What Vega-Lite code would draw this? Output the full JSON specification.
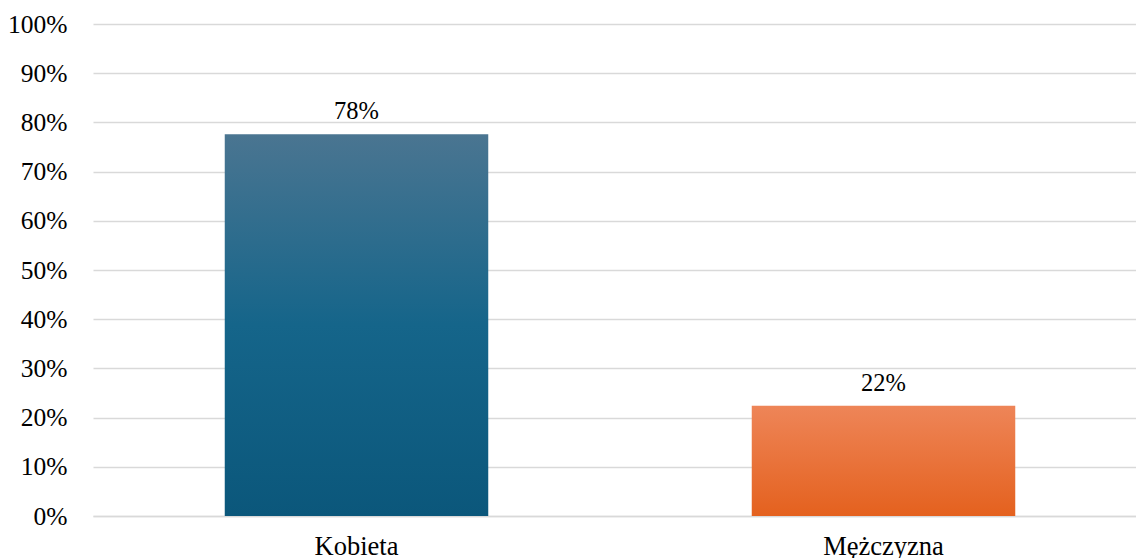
{
  "$schema": "https://vega.github.io/schema/vega-lite/v6.json",
  "width": 1054,
  "height": 492,
  "autosize": {"type": "none"},
  "padding": {"left": 93, "top": 24, "right": 0, "bottom": 42},
  "config": {
    "view": {"stroke": null},
    "font": "Liberation Serif, Times New Roman, serif",
    "axis": {"labelFont": "Liberation Serif, Times New Roman, serif", "labelColor": "#000000", "labelOverlap": false}
  },
  "data": {
    "values": [
      {"plec": "Kobieta", "udzial": 0.776},
      {"plec": "Mężczyzna", "udzial": 0.224}
    ]
  },
  "encoding": {
    "x": {
      "field": "plec", "type": "nominal", "sort": null,
      "scale": {"paddingInner": 0.5, "paddingOuter": 0.25},
      "axis": {"title": null, "labelAngle": 0, "labelFontSize": 26.5, "ticks": false, "domain": true, "domainColor": "#d9d9d9", "domainWidth": 1.5, "labelPadding": 17, "grid": false}
    },
    "y": {
      "field": "udzial", "type": "quantitative",
      "scale": {"domain": [0, 1]},
      "axis": {"title": null, "format": ".0%", "labelFontSize": 25.5, "values": [0,0.1,0.2,0.3,0.4,0.5,0.6,0.7,0.8,0.9,1], "ticks": false, "domain": false, "labelPadding": 26, "grid": true, "gridColor": "#d9d9d9", "gridWidth": 1.5}
    }
  },
  "layer": [
    {
      "transform": [{"filter": "datum.plec === 'Kobieta'"}],
      "mark": {
        "type": "bar",
        "color": {"gradient": "linear", "x1": 0, "y1": 0, "x2": 0, "y2": 1,
          "stops": [{"offset": 0, "color": "#4a7591"}, {"offset": 0.5, "color": "#15658a"}, {"offset": 1, "color": "#0b577b"}]}
      }
    },
    {
      "transform": [{"filter": "datum.plec === 'Mężczyzna'"}],
      "mark": {
        "type": "bar",
        "color": {"gradient": "linear", "x1": 0, "y1": 0, "x2": 0, "y2": 1,
          "stops": [{"offset": 0, "color": "#ee8558"}, {"offset": 1, "color": "#e4611e"}]}
      }
    },
    {
      "mark": {"type": "text", "baseline": "alphabetic", "dy": -15, "fontSize": 24.5, "font": "Liberation Serif, Times New Roman, serif", "color": "#000000"},
      "encoding": {"text": {"field": "udzial", "type": "quantitative", "format": ".0%"}}
    }
  ]
}
